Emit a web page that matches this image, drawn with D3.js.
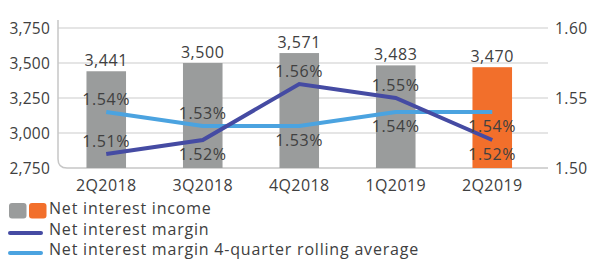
<!DOCTYPE html>
<html>
<head>
  <meta charset="UTF-8">
  <style>
    body {
      margin: 0;
      padding: 0;
      background-color: #ffffff;
      font-family: "Open Sans", sans-serif;
    }
    svg {
      display: block;
    }
    text {
      fill: #404040;
    }
  </style>
</head>
<body>
  <svg></svg>
  <script src="https://d3js.org/d3.v7.min.js"></script>

  <script>
  // data
  const quarters = ["2Q2018", "3Q2018", "4Q2018", "1Q2019", "2Q2019"];
  const netInterestIncome = [3441, 3500, 3571, 3483, 3470];
  const netInterestMargin = [1.51, 1.52, 1.56, 1.55, 1.52];
  const rollingAverage = [1.54, 1.53, 1.53, 1.54, 1.54];
  const leftTicks = [2750, 3000, 3250, 3500, 3750];
  const rightTicks = [1.50, 1.55, 1.60];
  const legendLabels = ["Net interest income", "Net interest margin", "Net interest margin 4-quarter rolling average"];

  const width = 592, height = 260;
  const plotLeft = 58, plotRight = 548, plotTop = 28, plotBottom = 168;

  const grey = "#9a9c9c", orange = "#f26f2b", darkBlue = "#454ba3", lightBlue = "#4ba3e0";

  const svg = d3.select("svg")
      .attr("width", width)
      .attr("height", height);

  const x = d3.scaleBand()
      .domain(quarters)
      .range([plotLeft, 540.5])
      .paddingInner(0.59)
      .paddingOuter(0.295);

  const yLeft = d3.scaleLinear().domain([2750, 3750]).range([plotBottom, plotTop]);
  const yRight = d3.scaleLinear().domain([1.50, 1.60]).range([plotBottom, plotTop]);

  // gridlines
  svg.append("g")
      .selectAll("line")
      .data(leftTicks.slice(1))
      .enter()
      .append("line")
      .attr("x1", plotLeft)
      .attr("x2", plotRight)
      .attr("y1", d => yLeft(d))
      .attr("y2", d => yLeft(d))
      .attr("stroke", "#dcdcdc")
      .attr("stroke-width", 1.5);

  // plot area border, rounded bottom-left corner
  svg.append("path")
      .attr("d", `M${plotLeft},20 V${plotBottom - 9} Q${plotLeft},${plotBottom} ${plotLeft + 9},${plotBottom} H${plotRight}`)
      .attr("fill", "none")
      .attr("stroke", "#c6c6c6")
      .attr("stroke-width", 1.5);

  // left axis labels
  const fmt = d3.format(",");
  svg.append("g")
      .selectAll("text")
      .data(leftTicks)
      .enter()
      .append("text")
      .attr("x", 50)
      .attr("y", d => yLeft(d))
      .attr("dy", "0.36em")
      .attr("text-anchor", "end")
      .style("font-size", "15.5px")
      .style("letter-spacing", "0.2px")
      .text(d => fmt(d));

  // right axis labels
  svg.append("g")
      .selectAll("text")
      .data(rightTicks)
      .enter()
      .append("text")
      .attr("x", 555)
      .attr("y", d => yRight(d))
      .attr("dy", "0.36em")
      .style("font-size", "15.5px")
      .style("letter-spacing", "0.5px")
      .text(d => d.toFixed(2));

  // bars
  svg.append("g")
      .selectAll("rect")
      .data(netInterestIncome)
      .enter()
      .append("rect")
      .attr("x", (d, i) => x(quarters[i]))
      .attr("y", d => yLeft(d))
      .attr("width", x.bandwidth())
      .attr("height", d => plotBottom - yLeft(d))
      .attr("fill", (d, i) => i === quarters.length - 1 ? orange : grey);

  svg.append("g")
      .selectAll("text")
      .data(netInterestIncome)
      .enter()
      .append("text")
      .attr("x", (d, i) => x(quarters[i]) + x.bandwidth() / 2)
      .attr("y", d => yLeft(d) - 5)
      .attr("text-anchor", "middle")
      .style("font-size", "16px")
      .style("letter-spacing", "0.6px")
      .text(d => fmt(d));

  // category labels
  svg.append("g")
      .selectAll("text")
      .data(quarters)
      .enter()
      .append("text")
      .attr("x", d => x(d) + x.bandwidth() / 2)
      .attr("y", 191)
      .attr("text-anchor", "middle")
      .style("font-size", "16px")
      .style("letter-spacing", "0.4px")
      .text(d => d);

  // lines
  const cx = i => x(quarters[i]) + x.bandwidth() / 2;
  const line = d3.line()
      .x((d, i) => cx(i))
      .y(d => yRight(d));

  svg.append("path")
      .datum(rollingAverage)
      .attr("d", line)
      .attr("fill", "none")
      .attr("stroke", lightBlue)
      .attr("stroke-width", 4);

  svg.append("path")
      .datum(netInterestMargin)
      .attr("d", line)
      .attr("fill", "none")
      .attr("stroke", darkBlue)
      .attr("stroke-width", 4);

  // percentage labels, placed above (-) or below (+) the point
  const nimSide = [-1, 1, -1, -1, 1];
  const avgSide = [-1, -1, 1, 1, 1];

  function pctLabels(values, side) {
    svg.append("g")
        .selectAll("text")
        .data(values)
        .enter()
        .append("text")
        .attr("x", (d, i) => cx(i))
        .attr("y", (d, i) => yRight(d) + (side[i] < 0 ? -7 : 20))
        .attr("text-anchor", "middle")
        .style("font-size", "16px")
        .style("letter-spacing", "0.6px")
        .text(d => d.toFixed(2) + "%");
  }
  pctLabels(netInterestMargin, nimSide);
  pctLabels(rollingAverage, avgSide);

  // legend
  const legend = svg.append("g");
  legend.append("rect")
      .attr("x", 9).attr("y", 203)
      .attr("width", 17.5).attr("height", 15.5)
      .attr("rx", 3)
      .attr("fill", grey);
  legend.append("rect")
      .attr("x", 29).attr("y", 203)
      .attr("width", 17.5).attr("height", 15.5)
      .attr("rx", 3)
      .attr("fill", orange);

  [darkBlue, lightBlue].forEach((c, i) => {
    legend.append("line")
        .attr("x1", 10).attr("x2", 41)
        .attr("y1", 233 + i * 20).attr("y2", 233 + i * 20)
        .attr("stroke", c)
        .attr("stroke-width", 4)
        .attr("stroke-linecap", "round");
  });

  legend.selectAll("text")
      .data(legendLabels)
      .enter()
      .append("text")
      .attr("x", 49)
      .attr("y", (d, i) => 214 + i * 20.5)
      .style("font-size", "16px")
      .style("letter-spacing", "0.8px")
      .text(d => d);
  </script>

</body>
</html>
